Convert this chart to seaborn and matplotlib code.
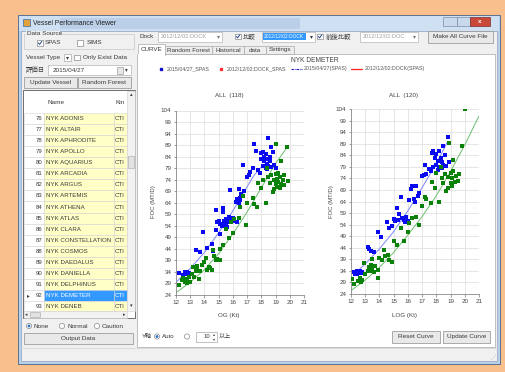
import matplotlib
matplotlib.use('Agg')
import matplotlib.pyplot as plt
from matplotlib.patches import Rectangle, Circle
import seaborn as sns

sns.set_theme(style='white')
plt.rcParams['font.family'] = ['Liberation Sans', 'Noto Sans CJK JP', 'DejaVu Sans']

# ---------------- data ----------------
x_ticks = [12, 13, 14, 15, 16, 17, 18, 19, 20, 21]
y_ticks = [24, 29, 34, 39, 44, 49, 54, 59, 64, 69, 74, 79, 84, 89, 94, 99, 104]

row_numbers = list(range(76, 94))
vessel_names = ["NYK ADONIS", "NYK ALTAIR", "NYK APHRODITE", "NYK APOLLO", "NYK AQUARIUS",
                "NYK ARCADIA", "NYK ARGUS", "NYK ARTEMIS", "NYK ATHENA", "NYK ATLAS",
                "NYK CLARA", "NYK CONSTELLATION", "NYK COSMOS", "NYK DAEDALUS",
                "NYK DANIELLA", "NYK DELPHINUS", "NYK DEMETER", "NYK DENEB"]
vessel_kind = "CTN"
selected_vessel = "NYK DEMETER"

legend_labels = ["2015/04/27_SPAS", "2012/12/02:DOCK_SPAS", "2015/04/27(SPAS)", "2012/12/02:DOCK(SPAS)"]

# OG chart
og_blue_x = [12.2, 12.5, 12.6, 12.7, 12.8, 12.9, 13.4, 13.7, 13.9, 14.2, 14.5, 14.6, 14.8, 14.8, 14.9,
             15.0, 15.1, 15.1, 15.2, 15.3, 15.3, 15.4, 15.4, 15.5, 15.5, 15.6, 15.6, 15.7, 15.7, 15.8,
             15.8, 15.9, 16.0, 16.1, 16.2, 16.3, 16.3, 16.4, 16.4, 16.5, 16.5, 16.6, 16.7, 16.8, 17.0,
             17.1, 17.2, 17.4, 17.5, 17.6, 17.8, 17.9, 18.0, 18.0, 18.1, 18.1, 18.2, 18.2, 18.3, 18.3,
             18.4, 18.4, 18.4, 18.5, 18.5, 18.6, 18.6, 18.7, 18.7, 18.8, 18.9, 19.0]
og_blue_y = [33.5, 32.5, 33.8, 33.2, 34.0, 33.5, 43.5, 42.5, 51.3, 44.5, 46.0, 43.0, 60.8, 52.3, 55.5,
             56.0, 50.6, 55.0, 54.0, 60.0, 61.8, 56.0, 54.5, 57.0, 55.0, 53.5, 56.5, 58.0, 55.5, 57.0,
             69.5, 56.0, 57.5, 56.0, 64.5, 65.5, 55.5, 70.0, 64.0, 66.0, 65.0, 68.0, 80.3, 69.0, 75.0,
             76.0, 77.5, 79.0, 89.5, 86.5, 78.0, 77.0, 83.0, 85.5, 86.0, 80.0, 84.0, 82.0, 85.0, 79.0,
             83.0, 81.0, 78.5, 92.0, 80.0, 84.0, 82.0, 88.0, 79.5, 86.0, 80.5, 79.0]
og_green_x = [12.2, 12.4, 12.5, 12.6, 12.7, 12.7, 12.8, 12.8, 12.9, 13.0, 13.1, 13.2, 13.3, 13.4, 13.5,
              13.5, 13.6, 13.7, 13.8, 14.0, 14.1, 14.2, 14.3, 14.4, 14.5, 14.6, 14.7, 14.8, 14.9, 15.1,
              15.1, 15.3, 15.5, 15.7, 16.0, 15.9, 16.1, 16.4, 16.5, 16.7, 16.9, 17.0, 17.4, 17.5, 17.7,
              17.8, 18.0, 18.1, 18.3, 18.4, 18.5, 18.6, 18.7, 18.8, 18.9, 18.9, 19.0, 19.0, 19.0, 19.1,
              19.1, 19.2, 19.2, 19.3, 19.3, 19.4, 19.4, 19.5, 19.6, 19.6, 19.8, 19.9]
og_green_y = [28.5, 30.5, 31.5, 29.5, 30.0, 31.0, 29.0, 30.5, 32.0, 29.5, 33.0, 36.0, 32.0, 34.5, 36.5,
              35.0, 31.0, 34.5, 37.0, 38.5, 40.0, 35.0, 36.0, 35.5, 35.0, 43.5, 41.0, 39.0, 39.5, 39.0,
              44.0, 45.5, 52.5, 48.5, 51.0, 55.5, 57.0, 57.5, 62.0, 67.0, 54.5, 64.0, 66.0, 63.5, 62.0,
              72.5, 70.5, 74.0, 64.0, 79.0, 75.0, 72.5, 76.0, 68.5, 70.0, 74.0, 89.5, 76.5, 72.0, 71.0,
              74.5, 77.0, 73.0, 70.5, 75.0, 82.0, 72.0, 74.0, 76.0, 71.5, 88.0, 73.5]
og_blue_curve_x = [12.0, 13.0, 14.0, 15.0, 16.0, 17.0, 17.5, 18.0, 18.6]
og_blue_curve_y = [29.5, 35.5, 42.5, 51.0, 60.5, 71.0, 76.0, 79.5, 82.5]
og_green_curve_x = [12.0, 13.0, 14.0, 15.0, 16.0, 17.0, 18.0, 19.0, 19.8]
og_green_curve_y = [25.0, 29.5, 35.0, 42.0, 50.5, 60.0, 70.5, 81.0, 88.0]

# LOG chart
log_blue_x = [12.2, 12.3, 12.4, 12.5, 12.6, 12.7, 12.8, 12.4, 13.2, 13.3, 13.4, 13.6, 13.9, 14.1, 14.5,
              14.7, 14.9, 15.0, 15.1, 15.2, 15.3, 15.4, 15.5, 15.6, 15.7, 15.8, 15.9, 16.0, 16.1, 16.2,
              16.3, 16.4, 16.5, 16.6, 16.7, 16.8, 17.0, 17.1, 17.2, 17.3, 17.5, 17.6, 17.7, 17.8, 17.8,
              17.9, 18.0, 18.0, 18.1, 18.1, 18.2, 18.2, 18.3, 18.4, 18.4, 18.5, 18.5, 18.6, 18.7, 18.8,
              18.9]
log_blue_y = [33.5, 32.5, 33.8, 33.0, 34.0, 33.2, 33.6, 32.8, 44.5, 43.5, 42.5, 42.3, 51.0, 48.5, 55.0,
              52.5, 53.5, 56.5, 55.5, 61.3, 56.0, 58.5, 66.0, 57.0, 56.0, 55.0, 57.5, 55.5, 64.5, 69.5,
              70.5, 65.0, 64.0, 70.5, 66.5, 67.5, 75.0, 75.5, 80.0, 76.0, 78.0, 77.0, 85.0, 86.0, 79.0,
              83.0, 84.5, 80.0, 81.5, 77.5, 86.0, 79.0, 83.0, 81.0, 78.5, 88.0, 80.0, 84.0, 79.5, 92.0,
              81.0]
log_green_x = [12.1, 12.2, 12.5, 12.6, 12.7, 12.8, 12.9, 13.0, 13.2, 13.3, 13.4, 13.4, 13.5, 13.5, 13.6,
               13.7, 13.9, 13.9, 14.0, 14.2, 14.3, 14.4, 14.6, 14.7, 14.9, 15.0, 15.2, 15.5, 15.7, 16.0,
               16.1, 16.3, 16.6, 16.8, 17.0, 17.2, 17.3, 17.6, 17.7, 17.9, 18.0, 18.2, 18.3, 18.4, 18.5,
               18.6, 18.7, 18.8, 18.8, 18.9, 19.0, 19.0, 19.1, 19.1, 19.2, 19.2, 19.3, 19.4, 19.5, 19.6,
               19.8, 20.0]
log_green_y = [30.5, 28.5, 29.5, 31.0, 29.0, 30.0, 37.5, 32.5, 34.0, 35.5, 36.5, 34.0, 35.0, 39.0, 33.5,
               36.0, 31.0, 34.5, 39.5, 38.5, 43.0, 40.5, 41.0, 38.5, 38.0, 47.0, 45.0, 52.5, 47.0, 51.0,
               54.5, 57.0, 57.5, 54.0, 62.0, 66.0, 65.0, 63.5, 72.5, 70.0, 76.5, 64.0, 79.0, 74.0, 72.0,
               76.0, 68.5, 70.0, 74.5, 89.5, 72.0, 76.5, 70.5, 74.0, 82.0, 77.0, 72.5, 75.0, 73.0, 76.0,
               88.0, 104.0]
log_blue_curve_x = [12.2, 13.0, 14.0, 15.0, 16.0, 17.0, 18.0, 18.8]
log_blue_curve_y = [32.5, 37.0, 43.5, 51.0, 60.0, 70.0, 80.5, 90.0]
log_green_curve_x = [12.0, 13.0, 14.0, 15.0, 16.0, 17.0, 18.0, 19.0, 20.0, 21.0]
log_green_curve_y = [25.5, 30.0, 35.5, 42.0, 49.5, 57.5, 66.5, 77.0, 88.5, 101.0]

# ---------------- figure / UI ----------------
W, H = 505, 372
fig = plt.figure(figsize=(5.05, 3.72), dpi=100)
fig.patch.set_facecolor('#F9C08D')
bg = fig.add_axes([0, 0, 1, 1])
bg.set_xlim(0, W); bg.set_ylim(H, 0); bg.axis('off')

TXT = '#3A3A3A'
FS = 4.6


def rect(x0, y0, x1, y1, fc, ec='none', lw=0.5, z=1):
    bg.add_patch(Rectangle((x0, y0), x1 - x0, y1 - y0, facecolor=fc, edgecolor=ec, linewidth=lw, zorder=z))


def txt(x, y, s, size=FS, color=TXT, ha='left', va='center', z=5, **kw):
    bg.text(x, y, s, fontsize=size, color=color, ha=ha, va=va, zorder=z, **kw)


def checkbox(x, y, checked=True):
    rect(x - 2.6, y - 2.6, x + 2.6, y + 2.6, 'white', '#8A8A8A', 0.5, z=4)
    if checked:
        bg.plot([x - 1.6, x - 0.4, x + 1.8], [y, y + 1.4, y - 1.6], color='#2B4A8A', lw=0.7, zorder=5)


def radio(x, y, on=False):
    bg.add_patch(Circle((x, y), 2.6, facecolor='white', edgecolor='#8A8A8A', lw=0.5, zorder=4))
    if on:
        bg.add_patch(Circle((x, y), 1.4, facecolor='#2C6FC9', edgecolor='none', zorder=5))


def button(x0, y0, x1, y1, label):
    rect(x0, y0, x1, y1, '#E9E9E9', '#8E8E8E', 0.5, z=3)
    txt((x0 + x1) / 2, (y0 + y1) / 2, label, ha='center')


def combo(x0, y0, x1, y1, label, color='#A0A0A0', fc='white'):
    rect(x0, y0, x1, y1, fc, '#B5B5B5', 0.5, z=3)
    txt(x0 + 3, (y0 + y1) / 2, label, color=color, size=4.1)
    txt(x1 - 4, (y0 + y1) / 2, '▾', color='#777', size=4.3, ha='center', family='DejaVu Sans')


# window frame
rect(18, 15, 500, 364, '#B8CFE8', '#5B7291', 0.7, z=1)
rect(19, 16, 499, 31, '#CFE0F2', 'none', z=1)
rect(60, 18, 300, 29, '#BBD0E8', 'none', z=1)
rect(21, 31, 497, 361, '#F0F0F0', '#8EA4C0', 0.5, z=2)
bg.add_patch(Rectangle((23, 19), 7, 7, facecolor='#E3A33A', edgecolor='#2E6BB0', lw=0.5, zorder=3))
txt(33, 23.5, 'Vessel Performance Viewer', size=4.9, color='#1E1E1E')
rect(443, 17, 457, 26, '#C9D9EC', '#7C8FA8', 0.5, z=3)
rect(457, 17, 470, 26, '#C9D9EC', '#7C8FA8', 0.5, z=3)
rect(470, 17, 490, 26, '#C9483A', '#7C3028', 0.5, z=3)
txt(480, 21.5, 'x', size=4.5, color='white', ha='center', weight='bold')

# left panel
rect(24, 34, 134, 49, 'none', '#C8C8C8', 0.5, z=3)
rect(26, 31, 60, 36, '#F0F0F0', 'none', z=3)
txt(27, 33.5, 'Data Source')
checkbox(40, 43); txt(45, 43, 'SPAS')
checkbox(80, 43, False); txt(87, 43, 'SIMS')
txt(26, 57.5, 'Vessel Type')
rect(64, 54, 71, 61, 'white', '#A8A8A8', 0.5, z=3)
txt(67.5, 57.5, '▾', size=4.3, ha='center', family='DejaVu Sans')
checkbox(77, 57.5, False); txt(83, 57.5, 'Only Exist Data')
txt(26, 70, '評価日')
rect(48, 65, 131, 75, 'white', '#B5B5B5', 0.5, z=3)
txt(53, 70, '2015/04/27')
rect(117, 66.5, 123, 73.5, '#E6E6E6', '#8A8A8A', 0.4, z=4)
txt(126, 70, '▾', size=4.0, ha='center', family='DejaVu Sans')
button(24, 77, 77, 88, 'Update Vessel')
button(78, 77, 131, 88, 'Random Forest')

# grid (list)
gx0, gx1 = 23, 135
row_top, row_h = 113, 11.06
rect(gx0, 90, gx1, 318, 'white', '#6E6E6E', 0.7, z=3)
txt(47, 103, 'Name')
txt(116, 103, 'Kin')
for i, (num, name) in enumerate(zip(row_numbers, vessel_names)):
    y0 = row_top + i * row_h
    y1 = min(y0 + row_h, 311)
    sel = name == selected_vessel
    rect(gx0 + 0.5, y0, 44, y1, '#FFFFFF', '#D4D4D4', 0.4, z=3)
    rect(44, y0, 114, y1, '#3399FF' if sel else '#FFFFC6', '#D4D4D4', 0.4, z=3)
    rect(114, y0, 127, y1, '#3399FF' if sel else '#FFFFC6', '#D4D4D4', 0.4, z=3)
    yc = (y0 + y1) / 2
    txt(42, yc, str(num), ha='right', size=4.3)
    txt(45.5, yc, name, size=4.4, color='white' if sel else TXT)
    txt(115, yc, vessel_kind[:2] + 'I', size=4.4, color='white' if sel else TXT)
    if sel:
        txt(27, yc, '▸', size=4.0, family='DejaVu Sans')
rect(127, 90.5, 134.5, 311, '#F2F2F2', '#D0D0D0', 0.4, z=4)
txt(131, 95, '▴', size=3.8, ha='center', family='DejaVu Sans')
txt(131, 306, '▾', size=3.8, ha='center', family='DejaVu Sans')
rect(127.8, 156, 133.8, 168, '#E2E2E2', '#A8A8A8', 0.4, z=5)
rect(gx0 + 0.5, 311, 127, 317.5, '#F2F2F2', '#D0D0D0', 0.4, z=4)
rect(30, 311.8, 40, 316.8, '#E2E2E2', '#A8A8A8', 0.4, z=5)
txt(26, 314.5, '◂', size=3.5, ha='center', family='DejaVu Sans')
txt(124, 314.5, '▸', size=3.5, ha='center', family='DejaVu Sans')

radio(29, 326, True); txt(34, 326, 'None')
radio(62, 326); txt(67, 326, 'Normal')
radio(97, 326); txt(102, 326, 'Caution')
button(24, 333, 133, 344, 'Output Data')

# status bar
bg.plot([21, 497], [347.5, 347.5], color='#D6D6D6', lw=0.6, zorder=3)
txt(493, 357, '⋰', size=4, color='#999', ha='center', family='DejaVu Sans')

# top controls
txt(140, 36.5, 'Dock')
combo(158, 31.5, 222, 41.5, '2012/12/02:DOCK')
checkbox(238, 36.5); txt(243, 36.5, '比較')
rect(262, 31.5, 315, 41.5, 'white', '#B5B5B5', 0.5, z=3)
rect(263, 33, 306, 40, '#3399FF', 'none', z=4)
txt(264, 36.5, '2012/12/02:DOCK', size=3.5, color='white')
txt(311, 36.5, '▾', size=4.3, ha='center', family='DejaVu Sans')
checkbox(320, 36.5); txt(326, 36.5, '前後比較')
combo(360, 31.5, 418, 41.5, '2012/12/02:DOC')
button(428, 31, 493, 42.5, 'Make All Curve File')

# tabs + white panel
rect(137, 54, 495, 347, 'white', '#A9A9A9', 0.5, z=2)
tabs = [(165, 212, 'Random Forest'), (212, 244, 'Historical'), (244, 266, 'data'), (266, 294, 'Settings')]
for x0, x1, lab in tabs:
    rect(x0, 46, x1, 54, '#EDEDED', '#A9A9A9', 0.5, z=3)
    txt((x0 + x1) / 2, 50, lab, ha='center', size=4.5)
rect(138, 44, 165, 54.6, 'white', '#A9A9A9', 0.5, z=3)
rect(138.4, 53.5, 164.6, 55.5, 'white', 'none', z=4)
txt(151.5, 49.5, 'CURVE', ha='center', size=4.5)

# chart title / legend
txt(315, 60.5, 'NYK DEMETER', ha='center', size=4.8, color='#444')
LFS = 3.8
bg.plot([161], [68.5], marker='s', ms=1.6, color='#1010D0', lw=0, zorder=5)
txt(167, 68.5, legend_labels[0], size=LFS, color='#555')
bg.plot([221], [68.5], marker='s', ms=1.4, color='#FF3030', lw=0, zorder=5)
txt(227, 68.5, legend_labels[1], size=LFS, color='#555')
bg.plot([291, 302], [68.5, 68.5], color='#2020C0', lw=0.8, ls=(0, (2.2, 0.8, 0.7, 0.8)), zorder=5)
txt(304, 68.5, legend_labels[2], size=LFS, color='#555')
bg.plot([351, 362], [68.5, 68.5], color='#FF2020', lw=0.9, zorder=5)
txt(365, 68.5, legend_labels[3], size=LFS, color='#555')

# bottom controls
txt(142, 336.5, 'Y軸', size=4.3)
radio(157, 336.5, True); txt(162, 336.5, 'Auto', size=4.4)
radio(187, 336.5)
rect(196, 331.5, 217, 341.5, 'white', '#A8A8A8', 0.5, z=3)
txt(210, 336.5, '10', size=4.2, ha='right')
txt(214, 334.3, '▴', size=3.0, ha='center', family='DejaVu Sans')
txt(214, 338.7, '▾', size=3.0, ha='center', family='DejaVu Sans')
txt(219, 336.5, '以上', size=4.4)
button(392, 331, 440, 342.5, 'Reset Curve')
button(443, 331, 490, 342.5, 'Update Curve')


# ---------------- charts ----------------
def chart(px, bx, by, gx, gy, bcx, bcy, gcx, gcy, title, xlabel, cx, ylx):
    x0, y0, x1, y1 = px
    ax = fig.add_axes([x0 / W, 1 - y1 / H, (x1 - x0) / W, (y1 - y0) / H], zorder=10)
    ax.set_facecolor('white')
    sns.lineplot(x=gcx, y=gcy, ax=ax, color='#6CBF6C', lw=0.7, zorder=2, sort=False)
    sns.lineplot(x=bcx, y=bcy, ax=ax, color='#7F86FF', lw=0.7, zorder=2, sort=False)
    sns.scatterplot(x=bx, y=by, ax=ax, color='#0A0AF0', marker='s', s=6.5, linewidth=0, zorder=3)
    sns.scatterplot(x=gx, y=gy, ax=ax, color='#0A820A', marker='s', s=6.5, linewidth=0, zorder=3)
    ax.set_xlim(12, 21); ax.set_ylim(24, 104)
    ax.set_xticks(x_ticks); ax.set_yticks(y_ticks)
    ax.set_xticklabels([str(t) for t in x_ticks])
    ax.set_yticklabels([str(t) for t in y_ticks])
    ax.grid(True, color='#DCDCDC', lw=0.5)
    ax.set_axisbelow(True)
    ax.tick_params(axis='both', labelsize=4.5, labelcolor='#444', length=1.8, width=0.5,
                   color='#777', pad=1.5, direction='out')
    ax.tick_params(left=True, bottom=True)
    for s in ['top', 'right']:
        ax.spines[s].set_visible(False)
    for s in ['left', 'bottom']:
        ax.spines[s].set_color('#8A8A8A'); ax.spines[s].set_linewidth(0.6)
    ax.set_xlabel(''); ax.set_ylabel('')
    txt(cx, 95, title, ha='center', size=4.5, color='#444')
    txt(cx, 315, xlabel, ha='center', size=4.5, color='#444')
    txt(ylx, 202, 'FOC (MT/D)', ha='center', size=4.3, color='#444', rotation=90)
    return ax


chart((176, 110.5, 304, 295), og_blue_x, og_blue_y, og_green_x, og_green_y,
      og_blue_curve_x, og_blue_curve_y, og_green_curve_x, og_green_curve_y,
      'ALL  (118)', 'OG (Kt)', 229, 153)
chart((351, 109, 479, 294), log_blue_x, log_blue_y, log_green_x, log_green_y,
      log_blue_curve_x, log_blue_curve_y, log_green_curve_x, log_green_curve_y,
      'ALL  (120)', 'LOG (Kt)', 404, 332)

fig.savefig('out.png', dpi=100, facecolor=fig.get_facecolor())
